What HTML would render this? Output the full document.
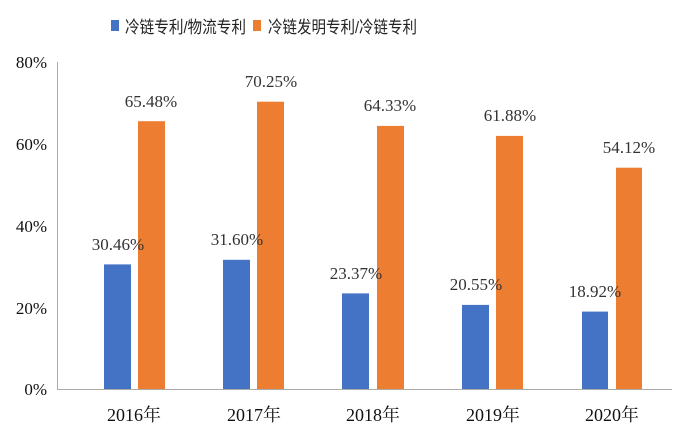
<!DOCTYPE html>
<html><head><meta charset="utf-8"><style>body{margin:0;background:#fff}svg{display:block}</style></head><body>
<svg width="694" height="445" xmlns="http://www.w3.org/2000/svg" font-family="'Liberation Serif','Noto Serif CJK SC',serif">
<rect width="694" height="445" fill="#fff"/>
<rect x="111" y="20" width="8" height="11" fill="#4472c4"/>
<text x="125" y="33" font-size="17" textLength="121" lengthAdjust="spacingAndGlyphs" font-family="'Liberation Sans','Noto Sans CJK SC',sans-serif" fill="#222">冷链专利/物流专利</text>
<rect x="253" y="20" width="8" height="11" fill="#ed7d31"/>
<text x="268" y="33" font-size="17" textLength="149" lengthAdjust="spacingAndGlyphs" font-family="'Liberation Sans','Noto Sans CJK SC',sans-serif" fill="#222">冷链发明专利/冷链专利</text>
<line x1="57.5" y1="62" x2="57.5" y2="390" stroke="#aaa"/>
<line x1="57" y1="389.5" x2="672" y2="389.5" stroke="#aaa"/>
<g font-size="17" fill="#111" text-anchor="end">
<text x="47" y="68">80%</text><text x="47" y="150">60%</text><text x="47" y="232">40%</text><text x="47" y="314">20%</text><text x="47" y="395">0%</text>
</g>
<g font-size="18" fill="#111" text-anchor="middle">
<text x="134" y="421">2016年</text><text x="254" y="421">2017年</text><text x="373" y="421">2018年</text><text x="493" y="421">2019年</text><text x="612" y="421">2020年</text>
</g>
<g font-size="17" fill="#333" text-anchor="middle">
<rect x="104" y="264.4" width="27" height="124.6" fill="#4472c4"/><rect x="138" y="121.2" width="27" height="267.8" fill="#ed7d31"/>
<text x="118" y="250">30.46%</text><text x="151" y="107">65.48%</text>
<rect x="223" y="259.8" width="27" height="129.2" fill="#4472c4"/><rect x="257" y="101.7" width="27" height="287.3" fill="#ed7d31"/>
<text x="237" y="245">31.60%</text><text x="271" y="87">70.25%</text>
<rect x="342" y="293.4" width="27" height="95.6" fill="#4472c4"/><rect x="377" y="125.9" width="27" height="263.1" fill="#ed7d31"/>
<text x="356" y="279">23.37%</text><text x="390" y="111">64.33%</text>
<rect x="462" y="304.9" width="27" height="84.1" fill="#4472c4"/><rect x="496" y="135.9" width="27" height="253.1" fill="#ed7d31"/>
<text x="476" y="290">20.55%</text><text x="510" y="121">61.88%</text>
<rect x="582" y="311.6" width="26" height="77.4" fill="#4472c4"/><rect x="616" y="167.7" width="26" height="221.3" fill="#ed7d31"/>
<text x="595" y="297">18.92%</text><text x="629" y="153">54.12%</text>
</g>
</svg>
</body></html>
